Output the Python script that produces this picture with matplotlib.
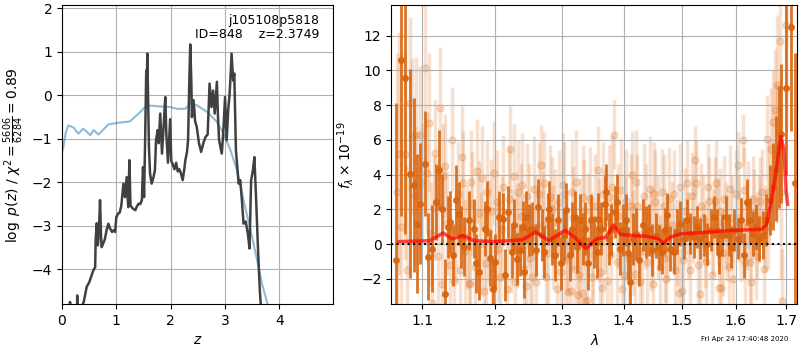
import numpy as np
import matplotlib
matplotlib.use('Agg')
import matplotlib.pyplot as plt
from matplotlib.ticker import FixedLocator, NullLocator, FixedFormatter

# --- left panel: log p(z) and prior ---
pz_z = [0.10, 0.14, 0.148, 0.156, 0.20, 0.27, 0.28, 0.29, 0.33, 0.40, 0.455, 0.50, 0.578,
        0.61, 0.62, 0.64, 0.66, 0.68, 0.70, 0.72, 0.73, 0.76, 0.79, 0.82, 0.854, 0.88, 0.92,
        0.95, 0.977, 1.00, 1.03, 1.06, 1.09, 1.11, 1.13, 1.16, 1.19, 1.21, 1.22, 1.24, 1.26,
        1.30, 1.35, 1.38, 1.41, 1.44, 1.47, 1.49, 1.51, 1.53, 1.55, 1.56, 1.57, 1.59, 1.60,
        1.62, 1.65, 1.68, 1.71, 1.73, 1.76, 1.78, 1.807, 1.84, 1.87, 1.90, 1.92, 1.95, 1.99,
        2.01, 2.04, 2.07, 2.10, 2.13, 2.16, 2.19, 2.22, 2.25, 2.27, 2.30, 2.32, 2.34, 2.36,
        2.38, 2.39, 2.42, 2.45, 2.48, 2.52, 2.56, 2.60, 2.64, 2.68, 2.715, 2.75, 2.78, 2.81,
        2.85, 2.87, 2.89, 2.94, 2.97, 3.00, 3.03, 3.06, 3.08, 3.10, 3.12, 3.15, 3.17, 3.20,
        3.25, 3.28, 3.31, 3.34, 3.38, 3.42, 3.45, 3.48, 3.51, 3.54, 3.57, 3.61, 3.64, 3.66,
        3.70]
pz_logp = [-5.5, -5.5, -4.75, -5.5, -5.5, -5.5, -4.6, -5.5, -4.95, -4.75, -4.4, -4.3, -4.02,
           -3.95, -3.3, -2.94, -3.45, -3.1, -2.41, -3.3, -3.49, -3.4, -3.3, -3.1, -2.95, -3.05,
           -3.14, -3.1, -3.14, -2.8, -2.72, -2.7, -2.55, -2.3, -2.03, -2.34, -1.88, -2.4, -2.57,
           -1.49, -2.53, -2.6, -2.64, -2.55, -2.49, -2.5, -2.41, -1.65, -2.34, -1.0, 0.57, 0.2,
           0.96, -0.49, -1.2, -1.80, -2.03, -1.9, -1.72, -1.03, -0.80, -1.1, -0.42, -1.34, -0.72,
           -0.04, -0.9, -1.55, -0.55, -1.5, -1.6, -1.7, -1.55, -1.75, -1.7, -1.8, -1.95, -1.7,
           -1.49, -1.3, -1.03, 0.2, 1.17, 0.3, -0.50, -0.11, -0.6, -0.73, -1.1, -1.30, -1.1,
           -0.96, -0.9, 0.27, -0.27, 0.11, -0.42, 0.31, -0.5, -1.03, -1.34, -0.8, -0.04, -1.03,
           -0.3, -0.04, 0.4, 0.96, 0.34, 0.50, -1.26, -2.03, -1.95, -2.41, -2.95, -2.9, -3.18,
           -3.52, -1.95, -1.75, -1.42, -2.34, -3.64, -4.48, -4.87, -5.5]

prior_z = [0.0, 0.025, 0.07, 0.116, 0.21, 0.30, 0.39, 0.45, 0.52, 0.58, 0.67, 0.76, 0.85,
           1.04, 1.25, 1.41, 1.56, 1.745, 1.99, 2.11, 2.27, 2.36, 2.48, 2.67, 2.85, 2.97,
           3.10, 3.22, 3.34, 3.47, 3.59, 3.68, 3.78, 3.85]
prior_logp = [-1.3, -1.19, -0.85, -0.69, -0.74, -0.88, -0.77, -0.83, -0.92, -0.80, -0.90,
              -0.79, -0.67, -0.63, -0.60, -0.42, -0.23, -0.25, -0.27, -0.31, -0.31, -0.19,
              -0.23, -0.38, -0.61, -0.88, -1.26, -1.72, -2.41, -3.10, -3.79, -4.33, -4.79, -5.2]

# --- right panel: spectrum ---
dark_wave = [1.066, 1.0727, 1.078, 1.0843, 1.0887, 1.093, 1.097, 1.104, 1.108, 1.113, 1.119,
             1.123, 1.127, 1.131, 1.135, 1.137, 1.141, 1.145, 1.150, 1.152, 1.157, 1.163,
             1.170, 1.173, 1.178, 1.186, 1.188, 1.193, 1.197, 1.200, 1.206, 1.211, 1.215,
             1.219, 1.225, 1.227, 1.232, 1.237, 1.241, 1.243, 1.245, 1.250, 1.255, 1.260,
             1.264, 1.269, 1.273, 1.278, 1.280, 1.285, 1.290, 1.294, 1.299, 1.303, 1.307,
             1.312, 1.316, 1.320, 1.324, 1.329, 1.333, 1.337, 1.342, 1.346, 1.351, 1.355,
             1.358, 1.363, 1.368, 1.370, 1.376, 1.379, 1.385, 1.389, 1.393, 1.398, 1.404,
             1.407, 1.411, 1.415, 1.420, 1.426, 1.432, 1.437, 1.442, 1.448, 1.455, 1.460,
             1.465, 1.471, 1.474, 1.480, 1.486, 1.492, 1.498, 1.504, 1.510, 1.516, 1.522,
             1.528, 1.534, 1.540, 1.546, 1.553, 1.559, 1.565, 1.568, 1.575, 1.581, 1.588,
             1.592, 1.597, 1.604, 1.610, 1.617, 1.622, 1.627, 1.633, 1.640, 1.646, 1.653,
             1.660, 1.667, 1.673, 1.680, 1.685, 1.689, 1.700, 1.710, 1.719]
dark_flux = [-0.9, 10.6, 9.58, 4.06, 3.39, 1.19, 2.34, 4.64, -0.73, -0.25, 2.43, 4.29, 2.05,
             -2.84, 0.99, 1.28, -0.63, 2.53, 1.76, 0.42, -0.15, 1.38, 0.90, -1.11, -1.59, 0.90,
             2.05, -0.81, -2.55, -1.00, 1.57, 1.47, -1.78, 1.86, -0.44, 1.09, -0.83, -0.35, 0.98,
             -1.59, 1.57, 0.80, 0.90, -0.34, 2.14, 0.52, -0.44, 1.47, 2.05, 0.32, -0.63, 1.38,
             -1.11, 0.52, 1.95, -0.63, 0.90, 1.57, -0.15, 1.38, 0.32, 0.90, -1.11, 1.38, 0.13,
             -0.44, 1.47, 0.90, 2.34, 3.01, 0.32, 0.80, 1.86, 2.43, -0.25, 0.80, 1.38, -0.53,
             -2.17, 0.32, 0.61, -0.92, 1.09, 0.71, 0.80, -0.34, 0.50, -0.20, -0.44, 0.80, 1.66,
             -0.25, -0.44, 0.71, 1.19, 0.32, 1.38, 0.61, 0.42, 0.99, 0.32, 0.52, 0.03, 0.80,
             1.57, 0.80, -0.53, 0.52, 1.57, 0.52, -0.15, 0.80, 0.32, 1.38, -0.63, 2.43, 1.38,
             0.61, 0.99, 0.32, 0.52, 1.38, 2.53, 3.30, 4.35, 5.60, 6.36, 9.0, 12.5, 3.5]
dark_err = [9.0, 9.0, 9.0, 6.0, 5.0, 4.0, 3.5, 3.0, 2.5, 2.5, 2.2, 2.3, 2.0, 2.0, 1.8, 1.8,
            1.8, 2.0, 1.8, 1.8, 1.7, 1.7, 1.7, 1.7, 1.6, 1.6, 1.6, 1.6, 1.6, 1.6, 1.5, 1.5,
            1.5, 1.5, 1.5, 1.5, 1.5, 1.5, 1.5, 1.5, 1.5, 1.5, 1.5, 1.5, 1.6, 1.5, 1.5, 1.5,
            1.6, 1.5, 1.5, 1.5, 1.5, 1.5, 1.6, 1.5, 1.5, 1.5, 1.5, 1.5, 1.5, 1.5, 1.5, 1.5,
            1.5, 1.5, 1.5, 1.5, 1.6, 1.6, 1.5, 1.5, 1.5, 1.6, 1.5, 1.5, 1.5, 1.5, 1.6, 1.5,
            1.5, 1.5, 1.5, 1.5, 1.5, 1.5, 1.3, 1.3, 1.3, 1.3, 1.3, 1.3, 1.3, 1.3, 1.3, 1.2,
            1.2, 1.2, 1.2, 1.2, 1.2, 1.2, 1.2, 1.2, 1.2, 1.2, 1.2, 1.2, 1.2, 1.2, 1.2, 1.2,
            1.2, 1.3, 1.3, 1.3, 1.3, 1.3, 1.3, 1.3, 1.4, 1.5, 2.0, 2.5, 3.0, 3.5, 4.0, 5.0,
            6.0, 7.5]

light_wave = [1.067, 1.070, 1.0727, 1.0778, 1.080, 1.0843, 1.0865, 1.090, 1.092, 1.0974,
              1.100, 1.104, 1.106, 1.1096, 1.112, 1.113, 1.1172, 1.1239, 1.126, 1.128, 1.133,
              1.1397, 1.143, 1.148, 1.151, 1.155, 1.160, 1.163, 1.165, 1.168, 1.172, 1.175,
              1.180, 1.184, 1.189, 1.192, 1.196, 1.203, 1.208, 1.212, 1.2219, 1.224, 1.229,
              1.234, 1.238, 1.242, 1.247, 1.252, 1.257, 1.261, 1.2685, 1.271, 1.276, 1.282,
              1.287, 1.292, 1.296, 1.301, 1.305, 1.310, 1.314, 1.318, 1.322, 1.3246, 1.327,
              1.331, 1.335, 1.337, 1.340, 1.344, 1.349, 1.3568, 1.361, 1.366, 1.372, 1.380,
              1.3837, 1.388, 1.395, 1.400, 1.404, 1.409, 1.4133, 1.418, 1.423, 1.428, 1.434,
              1.440, 1.444, 1.450, 1.454, 1.458, 1.462, 1.468, 1.473, 1.478, 1.483, 1.489,
              1.4947, 1.500, 1.506, 1.512, 1.518, 1.5247, 1.530, 1.534, 1.536, 1.542, 1.548,
              1.555, 1.561, 1.567, 1.568, 1.572, 1.578, 1.584, 1.590, 1.596, 1.6041, 1.607,
              1.614, 1.619, 1.624, 1.630, 1.636, 1.642, 1.648, 1.655, 1.661, 1.664, 1.6733,
              1.6783, 1.6804, 1.681, 1.6867, 1.690, 1.692, 1.6995,
              1.115, 1.121, 1.130, 1.137, 1.146, 1.153, 1.158, 1.166, 1.177, 1.182, 1.187,
              1.194, 1.199, 1.205, 1.210, 1.217, 1.220, 1.227, 1.232, 1.240, 1.245, 1.250,
              1.255, 1.259, 1.265, 1.273, 1.279, 1.284, 1.290, 1.298, 1.303, 1.308, 1.316,
              1.320, 1.329, 1.333, 1.342, 1.347, 1.352, 1.359, 1.364, 1.369, 1.375, 1.378,
              1.391, 1.397, 1.402, 1.412, 1.416, 1.421, 1.431, 1.437, 1.447, 1.452, 1.465,
              1.470, 1.476, 1.486, 1.492, 1.498, 1.503, 1.509, 1.515, 1.521, 1.527, 1.539,
              1.545, 1.551, 1.558, 1.564, 1.570, 1.576, 1.582, 1.588, 1.593, 1.600, 1.611,
              1.617, 1.622, 1.628, 1.634, 1.640, 1.645, 1.651, 1.657, 1.666, 1.670]
light_flux = [3.0, 5.2, 1.0, 5.17, -1.5, 8.1, 6.2, 2.8, 6.3, 6.26, 3.5, 10.15, 4.1, 7.0,
              0.6, -3.4, 5.27, 7.86, -2.3, 3.9, 1.2, 6.02, -2.1, 2.9, -1.5, 3.5, 0.4, -2.24,
              -2.3, 2.3, -1.3, 4.2, 0.0, -2.7, 3.0, 0.7, -2.5, 2.4, -1.9, 3.3, 5.5, 0.2, -2.2,
              3.0, 1.6, -1.4, 2.8, -0.8, 3.2, -2.2, 4.54, 1.1, -1.9, 2.7, 0.4, -2.6, 2.4, 3.4,
              -0.9, -2.74, -2.7, 1.5, 3.6, -2.9, -1.8, -2.8, 1.9, -3.28, -3.2, 2.6, -0.6, 4.29,
              -1.6, 2.9, -2.1, 3.3, 6.3, -1.0, 3.1, -1.8, 2.5, -0.8, 4.0, -1.7, 2.2, -2.16, 2.8,
              -1.0, 3.2, -2.3, 2.4, 1.0, -1.3, 2.2, -2.0, 2.6, 1.1, -1.5, -2.78, -2.7, 1.9,
              0.5, 2.8, 4.83, -1.2, -2.84, 2.2, 0.0, 3.3, -1.8, 2.5, 1.3, -2.5, -2.5, 2.6, 0.4,
              3.2, -2.0, 4.54, 1.5, 5.98, -1.0, 2.3, -2.2, 1.8, 0.5, 2.5, -1.4, 6.07, 1.1, 7.03,
              7.74, 9.18, 5.2, 11.7, 3.0, -3.28, 12.6,
              2.1, -0.7, 4.5, -1.2, 0.8, 5.0, -0.4, 3.6, 1.8, 3.8, -1.1, 1.9, 4.1, -0.3, 0.9,
              -2.6, 2.6, 3.9, 0.5, 3.4, -2.4, 1.7, -1.9, 1.0, 2.9, 3.5, -0.5, 2.0, 1.3, -1.6,
              2.9, 0.2, 3.0, -1.4, 0.8, 2.7, 1.1, -1.9, 2.2, 0.8, -2.5, 1.3, 2.7, -0.6, 1.6,
              -2.6, 0.9, 2.2, 0.1, 3.6, -0.4, 1.6, 0.3, 2.9, 3.0, -0.8, 0.4, 2.9, 0.1, 3.3,
              -0.9, 3.5, -1.5, 1.4, 3.5, 1.5, -1.0, 2.5, 0.7, 3.5, 1.9, -0.5, 1.1, -1.3, 1.5,
              2.9, 0.3, 3.1, 1.0, -1.0, 2.6, -0.7, 1.4, 3.0, 0.9, 3.0, 5.5]
light_err = [8.0, 7.0, 7.0, 6.0, 6.0, 5.0, 4.5, 4.0, 4.5, 4.0, 3.5, 4.0, 3.5, 4.0, 3.0, 3.0,
             3.0, 3.5, 3.0, 3.0, 3.0, 3.0, 3.0, 3.0, 3.0, 3.0, 3.0, 3.0, 3.0, 3.0, 3.0, 3.0,
             3.0, 3.0, 3.0, 3.0, 3.0, 3.0, 3.0, 3.0, 2.5, 3.0, 3.0, 3.0, 3.0, 3.0, 3.0, 3.0,
             3.0, 3.0, 2.3, 3.0, 3.0, 3.0, 3.0, 3.0, 3.0, 3.0, 3.0, 3.0, 3.0, 3.0, 3.0, 3.0,
             3.0, 3.0, 3.0, 3.0, 3.0, 3.0, 3.0, 2.5, 3.0, 3.0, 3.0, 3.0, 2.0, 3.0, 3.0, 3.0,
             3.0, 3.0, 2.5, 3.0, 3.0, 3.0, 3.0, 3.0, 3.0, 3.0, 3.0, 3.0, 3.0, 3.0, 3.0, 3.0,
             2.5, 2.5, 2.5, 2.5, 2.5, 2.5, 2.5, 2.0, 2.5, 2.5, 2.5, 2.5, 2.5, 2.5, 2.5, 2.5,
             2.5, 2.5, 2.5, 2.5, 2.5, 2.5, 2.0, 2.5, 1.5, 2.5, 2.5, 2.5, 2.5, 2.5, 2.5, 2.5,
             2.5, 2.5, 3.0, 3.5, 4.0, 4.0, 5.0, 5.0, 3.0, 6.0,
             3.0, 3.0, 3.0, 3.0, 3.0, 3.0, 3.0, 3.0, 3.0, 3.0, 3.0, 3.0, 3.0, 3.0, 3.0, 3.0,
             3.0, 3.0, 3.0, 3.0, 3.0, 3.0, 3.0, 3.0, 3.0, 3.0, 3.0, 3.0, 3.0, 3.0, 3.0, 3.0,
             3.0, 3.0, 3.0, 3.0, 3.0, 3.0, 3.0, 3.0, 3.0, 3.0, 3.0, 3.0, 3.0, 3.0, 3.0, 3.0,
             3.0, 3.0, 3.0, 3.0, 3.0, 3.0, 2.5, 2.5, 2.5, 2.5, 2.5, 2.5, 2.5, 2.5, 2.5, 2.5,
             2.5, 2.5, 2.5, 2.5, 2.5, 2.5, 2.5, 2.5, 2.5, 2.5, 2.5, 2.5, 2.5, 2.5, 2.5, 2.5,
             2.5, 2.5, 2.5, 2.5, 2.5, 3.0, 3.5]

model_wave = [1.070, 1.110, 1.120, 1.128, 1.140, 1.155, 1.170, 1.200, 1.240, 1.260, 1.280,
              1.305, 1.320, 1.338, 1.355, 1.370, 1.383, 1.395, 1.440, 1.460, 1.468, 1.480,
              1.500, 1.550, 1.600, 1.650, 1.660, 1.670, 1.680, 1.689, 1.695, 1.700, 1.703]
model_flux = [0.15, 0.2, 0.45, 0.65, 0.3, 0.5, 0.2, 0.15, 0.25, 0.7, 0.2, 0.8, 0.4, -0.25,
              0.3, 0.4, 1.1, 0.55, 0.45, 0.3, 0.05, 0.4, 0.6, 0.7, 0.8, 0.85, 1.1, 2.5, 4.3,
              6.2, 5.5, 3.0, 2.3]

wave_ticks = [1.1, 1.2, 1.3, 1.4, 1.5, 1.6, 1.7]
orange = '#d9650f'

fig = plt.figure(figsize=(8, 3.5), dpi=100)
ax1 = fig.add_axes([0.0775, 0.131, 0.339, 0.854])
ax2 = fig.add_axes([0.489, 0.131, 0.5075, 0.854])

ax1.plot(prior_z, prior_logp, color='tab:blue', alpha=0.5, lw=1.5)
ax1.plot(pz_z, pz_logp, color='0.25', lw=1.8)
ax1.set_xlim(0, 4.99)
ax1.set_ylim(-4.8, 2.07)
ax1.set_xticks([0, 1, 2, 3, 4])
ax1.set_yticks([-4, -3, -2, -1, 0, 1, 2])
ax1.grid()
ax1.set_xlabel('$z$')
ax1.set_ylabel(r'$\log\ p(z)$ / $\chi^2=\frac{5606}{6284}=0.89$')
ax1.text(0.95, 0.97, 'j105108p5818\nID=848    z=2.3749', transform=ax1.transAxes,
         ha='right', va='top', fontsize=9, linespacing=1.05)

ax2.errorbar(light_wave, light_flux, yerr=light_err, fmt='o', color=orange, alpha=0.2,
             ms=5, elinewidth=2.5, capsize=0, zorder=1)
ax2.errorbar(dark_wave, dark_flux, yerr=dark_err, fmt='o', color=orange, alpha=0.9,
             ms=4, elinewidth=2, capsize=0, zorder=2)
ax2.plot(model_wave, model_flux, color='r', lw=2.5, alpha=0.7, zorder=3)
ax2.axhline(0, color='k', ls=':', lw=1.5, zorder=4)
ax2.set_xscale('log')
ax2.set_xlim(1.06, 1.7225)
ax2.set_ylim(-3.45, 13.75)
ax2.xaxis.set_major_locator(FixedLocator(wave_ticks))
ax2.xaxis.set_major_formatter(FixedFormatter([str(w) for w in wave_ticks]))
ax2.xaxis.set_minor_locator(NullLocator())
ax2.set_yticks([-2, 0, 2, 4, 6, 8, 10, 12])
ax2.grid()
ax2.set_xlabel(r'$\lambda$')
ax2.set_ylabel(r'$f_\lambda\times10^{-19}$')

fig.text(0.985, 0.031, 'Fri Apr 24 17:40:48 2020', ha='right', va='center', fontsize=5)

fig.savefig('out.png', dpi=100)
